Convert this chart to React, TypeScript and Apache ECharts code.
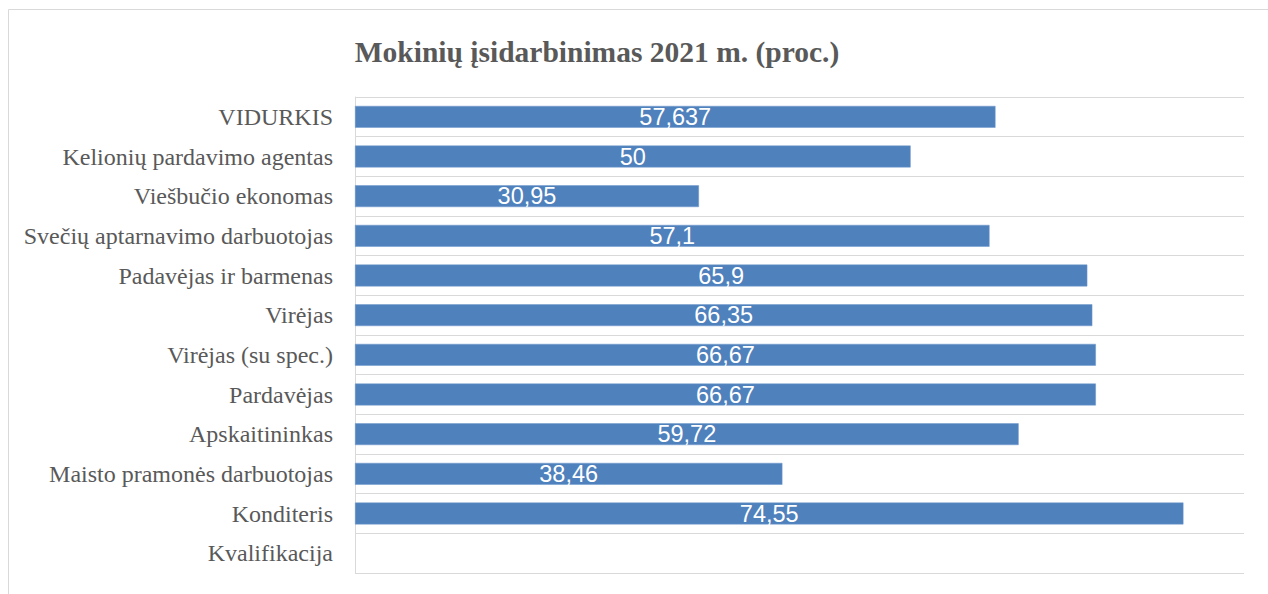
import React, { useEffect, useRef } from "react";
import * as echarts from "echarts";

const categories = [
  "VIDURKIS",
  "Kelionių pardavimo agentas",
  "Viešbučio ekonomas",
  "Svečių aptarnavimo darbuotojas",
  "Padavėjas ir barmenas",
  "Virėjas",
  "Virėjas (su spec.)",
  "Pardavėjas",
  "Apskaitininkas",
  "Maisto pramonės darbuotojas",
  "Konditeris",
  "Kvalifikacija",
];

const values: (number | null)[] = [
  57.637, 50, 30.95, 57.1, 65.9, 66.35, 66.67, 66.67, 59.72, 38.46, 74.55, null,
];

const titleText = "Mokinių įsidarbinimas 2021 m. (proc.)";

export default function App() {
  const ref = useRef<HTMLDivElement>(null);
  useEffect(() => {
    if (!ref.current) return;
    const chart = echarts.init(ref.current, undefined, { renderer: "svg" });
    chart.setOption({
      animation: false,
      backgroundColor: "#ffffff",
      graphic: [
        {
          type: "rect",
          shape: { x: 8.5, y: 9.5, width: 1300, height: 700 },
          style: { fill: "none", stroke: "#d9d9d9", lineWidth: 1 },
          silent: true,
          z: 0,
        },
      ],
      title: {
        text: titleText,
        left: 592,
        textAlign: "center",
        top: 32,
        textStyle: {
          fontFamily: "Liberation Serif",
          fontWeight: "bold",
          fontSize: 29.5,
          color: "#595959",
        },
      },
      grid: { left: 355, right: 24, top: 97, bottom: 21, containLabel: false },
      xAxis: {
        type: "value",
        min: 0,
        max: 80,
        axisLabel: { show: false },
        axisLine: { show: false },
        axisTick: { show: false },
        splitLine: { show: false },
      },
      yAxis: {
        type: "category",
        inverse: true,
        data: categories,
        axisLine: { show: true, lineStyle: { color: "#d9d9d9", width: 1 } },
        axisTick: { show: false },
        splitLine: { show: true, lineStyle: { color: "#d9d9d9", width: 1 } },
        axisLabel: {
          fontFamily: "Liberation Serif",
          fontSize: 24,
          color: "#595959",
          margin: 22,
        },
      },
      series: [
        {
          type: "bar",
          data: values,
          barWidth: "55%",
          itemStyle: { color: "#4f81bd", borderColor: "#6f98cc", borderWidth: 0.5 },
          label: {
            show: true,
            position: "inside",
            color: "#ffffff",
            fontFamily: "Liberation Sans",
            fontSize: 23.5,
            formatter: (p: any) =>
              p.value == null ? "" : String(p.value).replace(".", ","),
          },
        },
      ],
    });
    return () => chart.dispose();
  }, []);
  return (
    <div
      ref={ref}
      style={{ position: "fixed", left: 0, top: 0, width: 1268, height: 594 }}
    />
  );
}
